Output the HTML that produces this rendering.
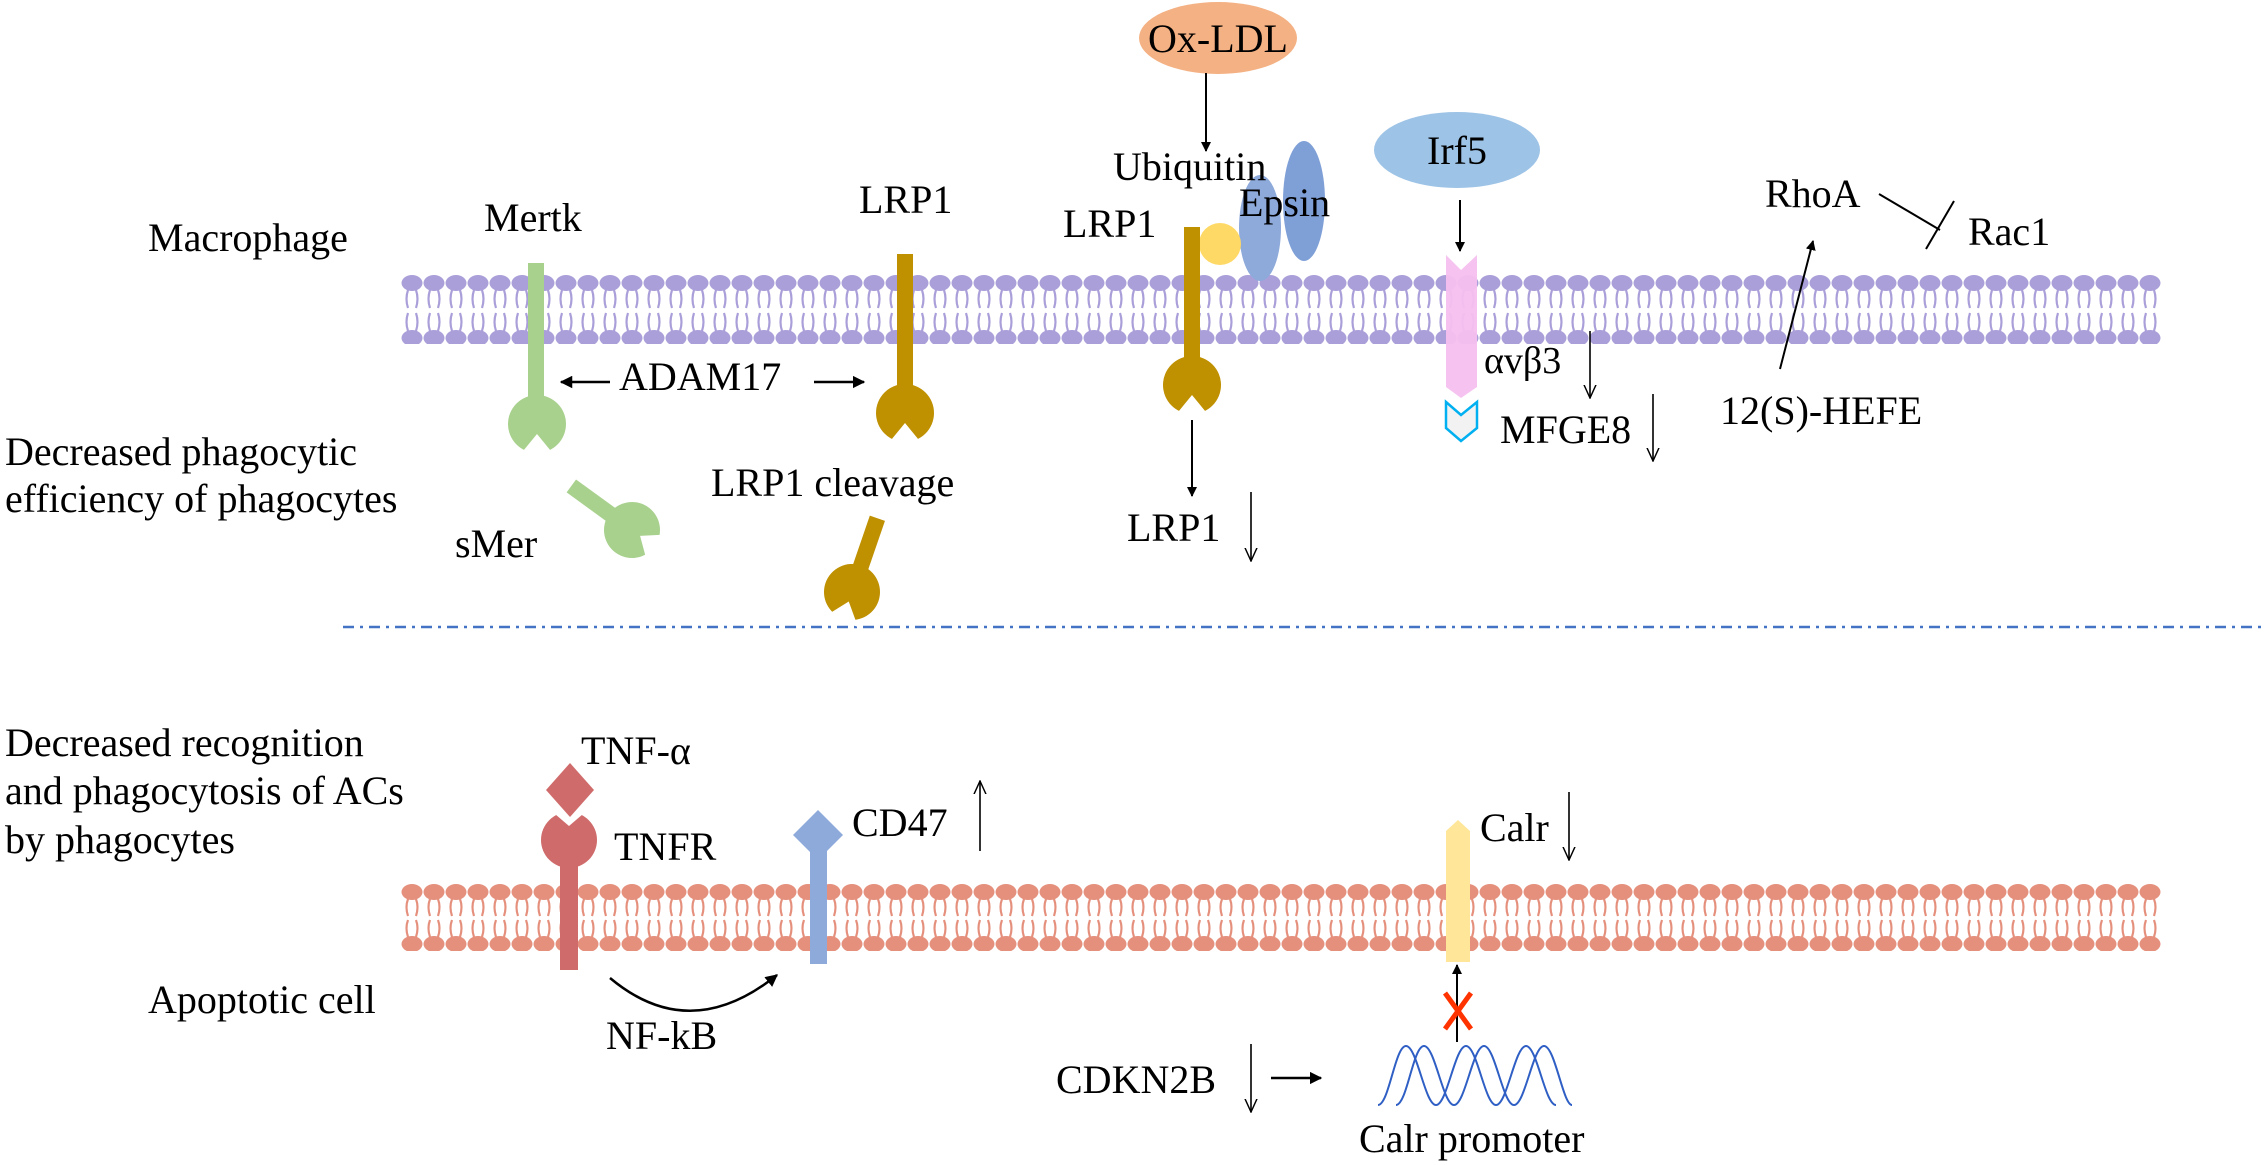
<!DOCTYPE html>
<html><head><meta charset="utf-8"><style>
html,body{margin:0;padding:0;background:#fff;}
svg{display:block;}
svg text{font-family:"Liberation Serif","Times New Roman",serif !important;font-size:40px;fill:#000;}
</style></head><body>
<svg width="2264" height="1165" viewBox="0 0 2264 1165" xmlns="http://www.w3.org/2000/svg" font-family="Liberation Serif, Times New Roman, serif" font-size="40">
<defs>
<pattern id="memP" x="401" y="274" width="22" height="70" patternUnits="userSpaceOnUse">
  <ellipse cx="11" cy="9" rx="10.5" ry="8" fill="#ab9fd9"/>
  <ellipse cx="11" cy="64" rx="10.5" ry="8" fill="#ab9fd9"/>
  <g fill="none" stroke="#ab9fd9" stroke-width="2.2">
    <path d="M7,16 q-3,9 0,18"/><path d="M15,16 q3,9 0,18"/>
    <path d="M7,39 q-3,9 0,18"/><path d="M15,39 q3,9 0,18"/>
  </g>
</pattern>
<pattern id="memR" x="401" y="883" width="22" height="68" patternUnits="userSpaceOnUse">
  <ellipse cx="11" cy="9" rx="10.5" ry="8" fill="#e5907d"/>
  <ellipse cx="11" cy="61" rx="10.5" ry="8" fill="#e5907d"/>
  <g fill="none" stroke="#e5907d" stroke-width="2.2">
    <path d="M7,16 q-3,8 0,17"/><path d="M15,16 q3,8 0,17"/>
    <path d="M7,37 q-3,8 0,17"/><path d="M15,37 q3,8 0,17"/>
  </g>
</pattern>
<marker id="af" viewBox="0 0 10 10" refX="9" refY="5" markerWidth="5" markerHeight="5" orient="auto" markerUnits="strokeWidth">
  <path d="M0,0 L10,5 L0,10 Z" fill="#000"/>
</marker>
<marker id="ao" viewBox="0 0 12 12" refX="11" refY="6" markerWidth="9" markerHeight="9" orient="auto" markerUnits="strokeWidth">
  <path d="M0,1 L11,6 L0,11" fill="none" stroke="#000" stroke-width="1.2"/>
</marker>
</defs>

<rect x="401" y="274" width="1760" height="70" fill="url(#memP)"/>
<rect x="401" y="883" width="1760" height="68" fill="url(#memR)"/>

<line x1="343" y1="627" x2="2264" y2="627" stroke="#4472c4" stroke-width="2.5" stroke-dasharray="11 6 3 6"/>

<!-- Mertk -->
<rect x="528" y="263" width="16" height="140" fill="#a9d18e"/>
<circle cx="537" cy="424" r="29" fill="#a9d18e"/>
<polygon points="519,456 537,434 555,456" fill="#fff"/>
<g transform="translate(632,530) rotate(-54)">
  <rect x="-8" y="-75" width="16" height="55" fill="#a9d18e"/>
  <circle cx="0" cy="0" r="28" fill="#a9d18e"/>
  <polygon points="-17,31 0,10 17,31" fill="#fff"/>
</g>

<!-- LRP1 left -->
<rect x="897" y="254" width="16" height="140" fill="#bf9000"/>
<circle cx="905" cy="413" r="29" fill="#bf9000"/>
<polygon points="887,445 905,423 923,445" fill="#fff"/>
<g transform="translate(852,592) rotate(19)">
  <rect x="-8" y="-78" width="16" height="60" fill="#bf9000"/>
  <circle cx="0" cy="0" r="28" fill="#bf9000"/>
  <polygon points="-17,31 0,10 17,31" fill="#fff"/>
</g>

<line x1="610" y1="382" x2="561" y2="382" stroke="#000" stroke-width="2.5" marker-end="url(#af)"/>
<line x1="814" y1="382" x2="864" y2="382" stroke="#000" stroke-width="2.5" marker-end="url(#af)"/>

<!-- middle LRP1 -->
<ellipse cx="1260" cy="228" rx="21" ry="53" fill="#8eaadb"/>
<ellipse cx="1304" cy="201" rx="21" ry="60" fill="#7f9fd7"/>
<circle cx="1220" cy="244" r="21" fill="#ffd966"/>
<rect x="1184" y="227" width="16" height="140" fill="#bf9000"/>
<circle cx="1192" cy="385" r="29" fill="#bf9000"/>
<polygon points="1174,417 1192,395 1210,417" fill="#fff"/>
<line x1="1192" y1="420" x2="1192" y2="496" stroke="#000" stroke-width="2" marker-end="url(#af)"/>

<ellipse cx="1218" cy="38" rx="79" ry="36" fill="#f4b183"/>
<text x="1218" y="52" text-anchor="middle">Ox-LDL</text>
<line x1="1206" y1="73" x2="1206" y2="151" stroke="#000" stroke-width="2" marker-end="url(#af)"/>

<ellipse cx="1457" cy="150" rx="83" ry="38" fill="#9dc3e6"/>
<text x="1457" y="164" text-anchor="middle">Irf5</text>
<line x1="1460" y1="200" x2="1460" y2="251" stroke="#000" stroke-width="2" marker-end="url(#af)"/>
<polygon points="1446,255 1461,270 1477,255 1477,387 1461,398 1446,387" fill="#f5c0ef" opacity="0.95"/>
<polygon points="1446,402 1461,415 1477,402 1477,428 1461,441 1446,428" fill="#f2f2f2" stroke="#00b0f0" stroke-width="2.5"/>

<line x1="1780" y1="369" x2="1813" y2="241" stroke="#000" stroke-width="2" marker-end="url(#af)"/>
<line x1="1879" y1="194" x2="1940" y2="230" stroke="#000" stroke-width="2"/>
<line x1="1954" y1="201" x2="1926" y2="249" stroke="#000" stroke-width="2"/>

<line x1="1251" y1="492" x2="1251" y2="561" stroke="#000" stroke-width="1.6" marker-end="url(#ao)"/>
<line x1="1590" y1="331" x2="1590" y2="398" stroke="#000" stroke-width="1.6" marker-end="url(#ao)"/>
<line x1="1653" y1="394" x2="1653" y2="461" stroke="#000" stroke-width="1.6" marker-end="url(#ao)"/>

<text x="148" y="251">Macrophage</text>
<text x="484" y="231">Mertk</text>
<text x="859" y="213">LRP1</text>
<text x="1063" y="237">LRP1</text>
<text x="1113" y="180">Ubiquitin</text>
<text x="1239" y="216">Epsin</text>
<text x="619" y="390">ADAM17</text>
<text x="5" y="465">Decreased phagocytic</text>
<text x="5" y="512">efficiency of phagocytes</text>
<text x="455" y="557">sMer</text>
<text x="711" y="496">LRP1 cleavage</text>
<text x="1127" y="541">LRP1</text>
<text x="1484" y="373" style="font-size:38px">αvβ3</text>
<text x="1500" y="443">MFGE8</text>
<text x="1720" y="424">12(S)-HEFE</text>
<text x="1765" y="207">RhoA</text>
<text x="1968" y="245">Rac1</text>

<!-- TNF / TNFR -->
<rect x="560" y="850" width="18" height="120" fill="#d06b6b"/>
<circle cx="569" cy="840" r="28" fill="#d06b6b"/>
<polygon points="548,808 569,826 590,808 590,800 548,800" fill="#fff"/>
<polygon points="570,763 594,790 570,817 546,790" fill="#d06b6b"/>

<rect x="810" y="850" width="17" height="114" fill="#8eaadb"/>
<polygon points="818,810 843,835 818,860 793,835" fill="#8eaadb"/>
<line x1="980" y1="851" x2="980" y2="781" stroke="#000" stroke-width="1.6" marker-end="url(#ao)"/>

<path d="M610,978 Q690,1045 777,975" fill="none" stroke="#000" stroke-width="2.5" marker-end="url(#af)"/>

<polygon points="1446,831 1458,820 1470,831 1470,962 1446,962" fill="#ffe699"/>
<line x1="1569" y1="792" x2="1569" y2="860" stroke="#000" stroke-width="1.6" marker-end="url(#ao)"/>
<line x1="1457" y1="1042" x2="1457" y2="965" stroke="#000" stroke-width="2" marker-end="url(#af)"/>
<g stroke="#ff3300" stroke-width="5">
  <line x1="1445" y1="993" x2="1471" y2="1029"/>
  <line x1="1471" y1="993" x2="1445" y2="1029"/>
</g>

<g fill="none" stroke="#2f5fc4" stroke-width="2">
  <path d="M1378,1105 C1389,1105 1395,1046 1406,1046 C1417,1046 1425,1105 1436,1105 C1447,1105 1455,1046 1466,1046 C1477,1046 1485,1105 1496,1105 C1507,1105 1515,1046 1526,1046 C1537,1046 1545,1105 1556,1105"/>
  <path d="M1396,1105 C1407,1105 1413,1046 1424,1046 C1435,1046 1443,1105 1454,1105 C1465,1105 1473,1046 1484,1046 C1495,1046 1503,1105 1514,1105 C1525,1105 1533,1046 1544,1046 C1555,1046 1563,1105 1572,1105"/>
</g>

<line x1="1251" y1="1044" x2="1251" y2="1112" stroke="#000" stroke-width="1.6" marker-end="url(#ao)"/>
<line x1="1271" y1="1078" x2="1321" y2="1078" stroke="#000" stroke-width="2.5" marker-end="url(#af)"/>

<text x="5" y="756">Decreased recognition</text>
<text x="5" y="804">and phagocytosis of ACs</text>
<text x="5" y="853">by phagocytes</text>
<text x="581" y="764">TNF-α</text>
<text x="614" y="860">TNFR</text>
<text x="852" y="836">CD47</text>
<text x="148" y="1013">Apoptotic cell</text>
<text x="606" y="1049">NF-kB</text>
<text x="1056" y="1093">CDKN2B</text>
<text x="1480" y="841">Calr</text>
<text x="1359" y="1152">Calr promoter</text>
</svg>
</body></html>
